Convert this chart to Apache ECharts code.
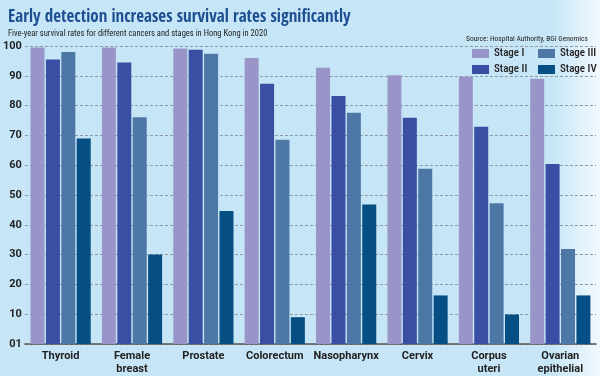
<!DOCTYPE html>
<html>
<head>
<meta charset="utf-8">
<script src="https://cdn.jsdelivr.net/npm/echarts@6/dist/echarts.min.js"></script>
<style>
    html, body { margin: 0; padding: 0; }
    #chart { width: 600px; height: 376px; }
</style>
</head>
<body>
<div id="chart"></div>
<script>
const categories = ['Thyroid', 'Female\nbreast', 'Prostate', 'Colorectum', 'Nasopharynx', 'Cervix', 'Corpus\nuteri', 'Ovarian\nepithelial'];
const stageNames = ['Stage I', 'Stage II', 'Stage III', 'Stage IV'];
const stage1 = [99.5, 99.5, 99.2, 96.0, 92.7, 90.2, 89.7, 89.0];
const stage2 = [95.5, 94.5, 98.7, 87.3, 83.2, 75.9, 72.9, 60.4];
const stage3 = [98.0, 76.1, 97.4, 68.5, 77.6, 58.8, 47.2, 31.9];
const stage4 = [69.0, 30.0, 44.6, 9.0, 46.8, 16.3, 9.9, 16.3];
const yTicks = [0, 10, 20, 30, 40, 50, 60, 70, 80, 90, 100];

const titleFont = "'Open Sans Condensed', 'Roboto Condensed', sans-serif";
const smallFont = "'Roboto Condensed', 'Liberation Sans', sans-serif";
const labelFont = "Roboto, 'Liberation Sans', sans-serif";
const stageColors = ['#9a95c8', '#3a4ea3', '#4d78a6', '#064f84'];
const textDark = '#222';

let chart = echarts.init(document.getElementById('chart'));

let seriesData = [stage1, stage2, stage3, stage4];
let series = seriesData.map(function(data, index) {
    return {
        name: stageNames[index],
        type: 'bar',
        data: data,
        barWidth: 14,
        barGap: '10%',
        itemStyle: {
            color: stageColors[index]
        }
    };
});

let legendBase = {
    orient: 'vertical',
    icon: 'rect',
    padding: 0,
    itemWidth: 17,
    itemHeight: 9,
    itemGap: 5,
    top: 48,
    selectedMode: false,
    textStyle: {
        fontFamily: smallFont,
        fontWeight: 500,
        fontSize: 11,
        color: textDark,
        lineHeight: 9
    }
};

let option = {
    animation: false,
    graphic: [{
        type: 'rect',
        z: -10,
        silent: true,
        shape: {x: 0, y: 0, width: 600, height: 376},
        style: {
            fill: new echarts.graphic.LinearGradient(0, 0, 1, 0, [
                {offset: 0, color: '#c6e6f7'},
                {offset: 0.92, color: '#c6e6f7'},
                {offset: 1, color: '#f2f9fd'}
            ])
        }
    }],
    title: [{
        text: 'Early detection increases survival rates significantly',
        left: 8,
        top: 9,
        padding: 0,
        textStyle: {
            fontFamily: titleFont,
            fontWeight: 'bold',
            fontSize: 17,
            color: '#1d4f91'
        }
    }, {
        text: 'Five-year survival rates for different cancers and stages in Hong Kong in 2020',
        left: 8,
        top: 29,
        padding: 0,
        textStyle: {
            fontFamily: smallFont,
            fontWeight: 'normal',
            fontSize: 8.5,
            color: textDark
        }
    }, {
        text: 'Source: Hospital Authority, BGI Genomics',
        left: 466,
        top: 35,
        padding: 0,
        textStyle: {
            fontFamily: smallFont,
            fontWeight: 'normal',
            fontSize: 7.5,
            color: textDark
        }
    }],
    legend: [
        Object.assign({}, legendBase, {left: 472, data: [stageNames[0], stageNames[1]]}),
        Object.assign({}, legendBase, {left: 538, data: [stageNames[2], stageNames[3]]})
    ],
    grid: {
        left: 24,
        right: 4,
        top: 46,
        bottom: 31,
        containLabel: false
    },
    xAxis: {
        type: 'category',
        data: categories,
        axisLine: {
            lineStyle: {color: '#555', width: 1.5}
        },
        axisTick: {show: false},
        axisLabel: {
            margin: 6,
            interval: 0,
            fontFamily: labelFont,
            fontWeight: 'bold',
            fontSize: 11,
            lineHeight: 13,
            color: textDark
        }
    },
    yAxis: {
        type: 'value',
        min: yTicks[0],
        max: yTicks[yTicks.length - 1],
        interval: 10,
        axisLine: {show: false},
        axisTick: {show: false},
        axisLabel: {
            margin: 3,
            fontFamily: labelFont,
            fontWeight: 'bold',
            fontSize: 11,
            color: textDark,
            // the original axis reads "01" at zero
            formatter: function(value) {
                return value === 0 ? '01' : String(value);
            }
        },
        splitLine: {
            lineStyle: {
                color: '#8e9ba6',
                type: [3, 2],
                width: 1
            }
        }
    },
    series: series
};

chart.setOption(option);
</script>
</body>
</html>
